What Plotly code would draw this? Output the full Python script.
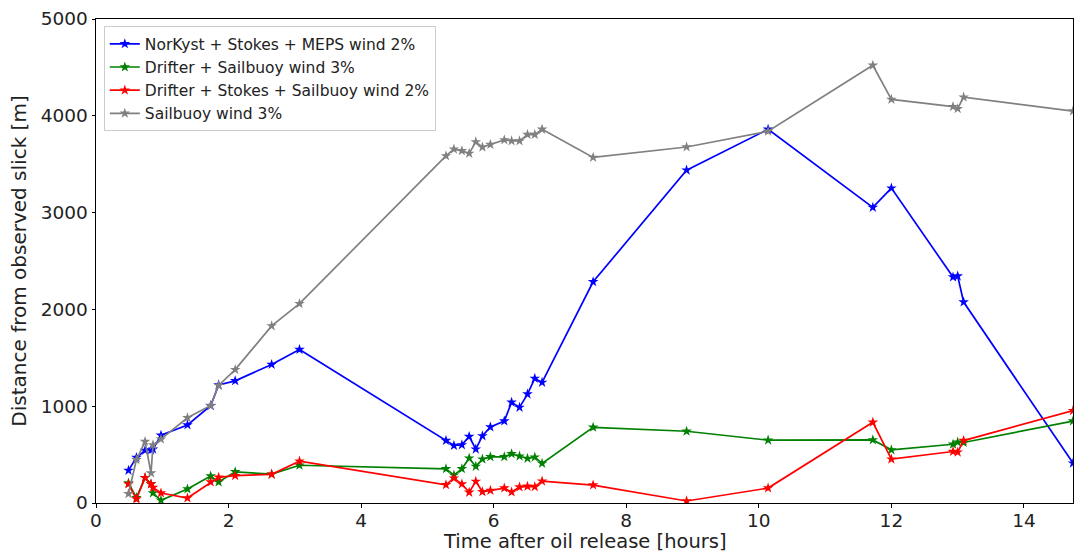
import plotly.graph_objects as go

# Time after release [hours], shared by all runs
hours = [0.49, 0.61, 0.74, 0.83, 0.86, 0.98, 1.38, 1.73, 1.85, 2.10, 2.65, 3.07,
         5.28, 5.40, 5.52, 5.63, 5.73, 5.83, 5.95, 6.16, 6.27, 6.39, 6.51, 6.62, 6.73,
         7.50, 8.91, 10.14, 11.72, 12.00, 12.93, 13.00, 13.09, 14.74]

# Distance from observed slick [m]
norkyst_stokes_meps = [337, 470, 543, 549, 556, 700, 806, 1005, 1220, 1262, 1431, 1585,
                       645, 594, 600, 687, 556, 693, 785, 847, 1040, 988, 1125, 1287, 1246,
                       2285, 3438, 3860, 3054, 3253, 2334, 2344, 2076, 412]
drifter_sailbuoy = [206, 55, 260, 196, 103, 28, 144, 278, 216, 322, 298, 390,
                    353, 288, 353, 463, 378, 453, 477, 477, 508, 484, 460, 473, 409,
                    782, 741, 649, 652, 549, 607, 628, 625, 847]
drifter_stokes_sailbuoy = [196, 41, 262, 196, 160, 103, 51, 216, 265, 283, 296, 432,
                           188, 257, 196, 110, 223, 116, 130, 154, 113, 165, 172, 168, 226,
                           185, 21, 154, 834, 453, 532, 525, 645, 954]
sailbuoy = [95, 446, 635, 309, 600, 660, 880, 1007, 1215, 1378, 1829, 2059,
            3586, 3655, 3638, 3611, 3730, 3676, 3703, 3751, 3740, 3740, 3806, 3806, 3860,
            3570, 3678, 3840, 4522, 4169, 4094, 4073, 4193, 4049]

series = [
    ("NorKyst + Stokes + MEPS wind 2%", norkyst_stokes_meps, "#0000ff"),
    ("Drifter + Sailbuoy wind 3%", drifter_sailbuoy, "#008000"),
    ("Drifter + Stokes + Sailbuoy wind 2%", drifter_stokes_sailbuoy, "#ff0000"),
    ("Sailbuoy wind 3%", sailbuoy, "#808080"),
]

fig = go.Figure()
for name, vals, color in series:
    fig.add_trace(go.Scatter(
        x=hours, y=vals, name=name, mode="lines+markers",
        line=dict(color=color, width=1.7),
        marker=dict(symbol="star", size=8, color=color, line=dict(width=0)),
    ))

axis_common = dict(
    showline=True, linecolor="black", linewidth=1, mirror=True, automargin=False,
    ticks="outside", ticklen=3.5, tickcolor="black", showgrid=False, zeroline=False,
    tickfont=dict(size=18.5, color="#222"),
)

fig.update_layout(
    width=1081, height=555,
    margin=dict(l=96, r=8, t=19, b=52),
    paper_bgcolor="white", plot_bgcolor="white",
    font=dict(family="DejaVu Sans", color="#222"),
    xaxis=dict(range=[0, 14.74], tickvals=[0, 2, 4, 6, 8, 10, 12, 14],
               ticklabelstandoff=-3, **axis_common),
    yaxis=dict(range=[0, 5000], tickvals=[0, 1000, 2000, 3000, 4000, 5000],
               title=dict(text="Distance from observed slick [m]", font=dict(size=20), standoff=8),
               **axis_common),
    legend=dict(x=0.008, y=0.985, xanchor="left", yanchor="top",
                bgcolor="rgba(255,255,255,0.8)", bordercolor="#cccccc", borderwidth=1,
                font=dict(size=15.5, color="#222"), tracegroupgap=0, itemwidth=30),
    showlegend=True,
)

# x-axis title anchored to the bottom edge of the figure
fig.add_annotation(
    text="Time after oil release [hours]", xref="paper", yref="paper",
    x=0.5, y=0, xanchor="center", yanchor="bottom", yshift=-51,
    showarrow=False, font=dict(size=19.5, color="#222"), borderpad=0,
)

fig.write_html("out.html")
